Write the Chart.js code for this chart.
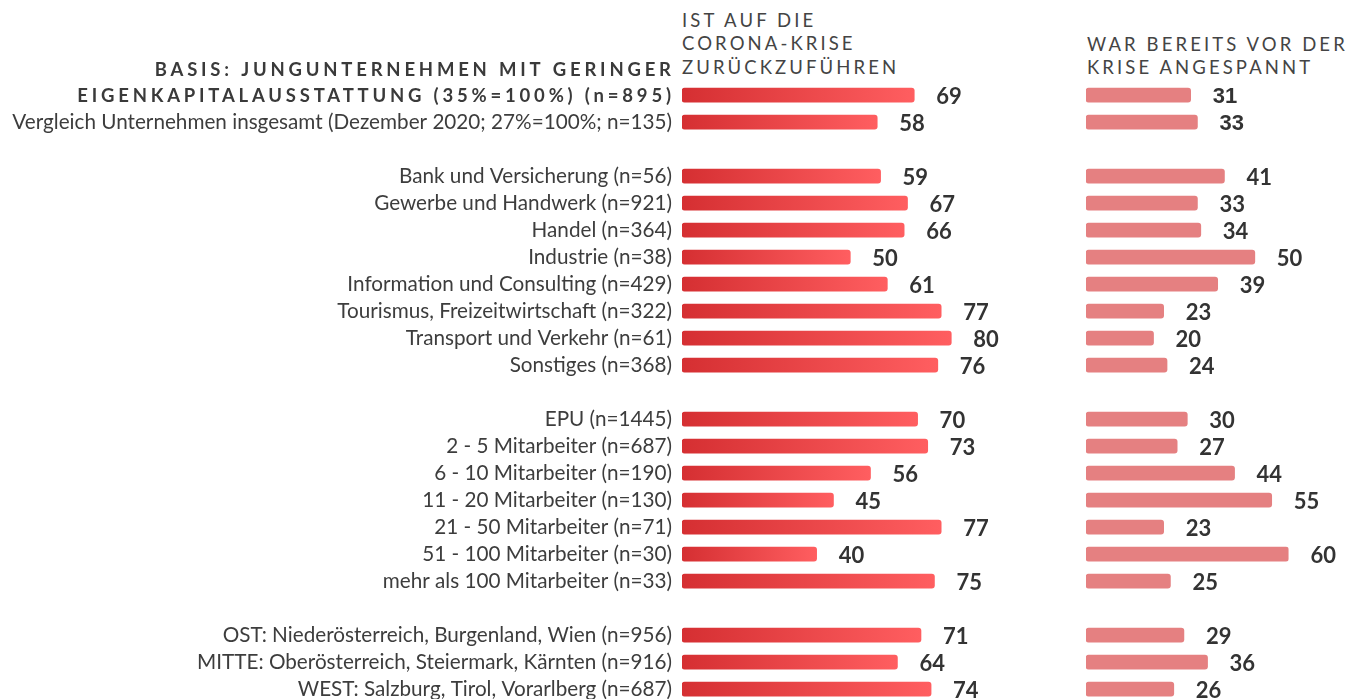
<!DOCTYPE html>
<html>
<head>
<meta charset="utf-8">
<script src="https://cdn.jsdelivr.net/npm/chart.js@4"></script>
<style>
  html, body { margin: 0; padding: 0; background: #fff; overflow: hidden; width: 1348px; height: 699px; }
  .box { position: absolute; top: 0; height: 731px; }
  .hdr { position: absolute; font-family: Lato, sans-serif; font-size: 18.5px; line-height: 23.3px;
         letter-spacing: 3.1px; color: #444; white-space: nowrap; }
</style>
</head>
<body>
<div class="hdr" id="h1" style="left:682px; top:9px;"></div>
<div class="hdr" id="h2" style="left:1087px; top:32.5px;"></div>
<div class="box" style="left:0; width:1030px;"><canvas id="c1"></canvas></div>
<div class="box" style="left:1040px; width:308px;"><canvas id="c2"></canvas></div>
<script>
// ---- data ----
const headerLeft = ['IST AUF DIE', 'CORONA-KRISE', 'ZURÜCKZUFÜHREN'];
const headerRight = ['WAR BEREITS VOR DER', 'KRISE ANGESPANNT'];
const categories = [
  ['BASIS: JUNGUNTERNEHMEN MIT GERINGER', 'EIGENKAPITALAUSSTATTUNG (35%=100%) (n=895)'],
  'Vergleich Unternehmen insgesamt (Dezember 2020; 27%=100%; n=135)',
  '',
  'Bank und Versicherung (n=56)',
  'Gewerbe und Handwerk (n=921)',
  'Handel (n=364)',
  'Industrie (n=38)',
  'Information und Consulting (n=429)',
  'Tourismus, Freizeitwirtschaft (n=322)',
  'Transport und Verkehr (n=61)',
  'Sonstiges (n=368)',
  '',
  'EPU (n=1445)',
  '2 - 5 Mitarbeiter (n=687)',
  '6 - 10 Mitarbeiter (n=190)',
  '11 - 20 Mitarbeiter (n=130)',
  '21 - 50 Mitarbeiter (n=71)',
  '51 - 100 Mitarbeiter (n=30)',
  'mehr als 100 Mitarbeiter (n=33)',
  '',
  'OST: Niederösterreich, Burgenland, Wien (n=956)',
  'MITTE: Oberösterreich, Steiermark, Kärnten (n=916)',
  'WEST: Salzburg, Tirol, Vorarlberg (n=687)'
];
const coronaValues = [69, 58, null, 59, 67, 66, 50, 61, 77, 80, 76, null, 70, 73, 56, 45, 77, 40, 75, null, 71, 64, 74];
const beforeValues = [31, 33, null, 41, 33, 34, 50, 39, 23, 20, 24, null, 30, 27, 44, 55, 23, 60, 25, null, 29, 36, 26];

// ---- headers ----
document.getElementById('h1').innerHTML = headerLeft.join('<br>');
document.getElementById('h2').innerHTML = headerRight.join('<br>');

const PAD_TOP = 81.7, PAD_BOTTOM = 28.3;

function valuePlugin(fontFn) {
  return {
    id: 'vals',
    afterDatasetsDraw(chart) {
      const ctx = chart.ctx;
      const meta = chart.getDatasetMeta(0);
      const data = chart.data.datasets[0].data;
      ctx.save();
      ctx.fillStyle = '#333';
      ctx.textAlign = 'left';
      ctx.textBaseline = 'middle';
      meta.data.forEach((el, i) => {
        if (data[i] == null) return;
        ctx.font = fontFn(i);
        ctx.fillText(String(data[i]), el.x + 22, el.y + 1.5);
      });
      ctx.restore();
    }
  };
}

const titlePlugin = {
  id: 'title2',
  afterDraw(chart) {
    const ctx = chart.ctx;
    const y = chart.scales.y.getPixelForTick(0);
    const lines = categories[0];
    const sp = 3.8;
    ctx.save();
    ctx.font = 'bold 18.5px Lato';
    ctx.letterSpacing = sp + 'px';
    ctx.fillStyle = '#3a3a3a';
    ctx.textAlign = 'right';
    ctx.textBaseline = 'middle';
    ctx.fillText(lines[1], 671 + sp, y + 0.5);
    ctx.fillText(lines[0], 671 + sp, y - 25.5 + 0.5);
    ctx.restore();
  }
};

function gradientFill(c) {
  const chart = c.chart;
  const area = chart.chartArea;
  if (!area || c.raw == null) return '#d93235';
  const x1 = chart.scales.x.getPixelForValue(c.raw);
  const g = chart.ctx.createLinearGradient(area.left, 0, x1, 0);
  g.addColorStop(0, '#d52f32');
  g.addColorStop(1, '#ff5e60');
  return g;
}

new Chart(document.getElementById('c1'), {
  type: 'bar',
  data: {
    labels: categories,
    datasets: [{
      data: coronaValues,
      backgroundColor: gradientFill,
      borderRadius: 3,
      borderSkipped: false,
      barThickness: 14
    }]
  },
  options: {
    indexAxis: 'y',
    responsive: true,
    maintainAspectRatio: false,
    animation: false,
    layout: { padding: { top: PAD_TOP, bottom: PAD_BOTTOM, right: 11.4, left: 0 } },
    plugins: { legend: { display: false }, tooltip: { enabled: false } },
    scales: {
      x: { min: 0, max: 100, display: false },
      y: {
        grid: { display: false, drawTicks: false },
        border: { display: false },
        afterFit(scale) { scale.width = 682; },
        ticks: {
          autoSkip: false,
          padding: 10,
          color: '#3d3d3d',
          font: { family: 'Lato', size: 20.7 },
          callback(value, index) {
            const l = categories[index];
            return Array.isArray(l) ? '' : l;
          }
        }
      }
    }
  },
  plugins: [valuePlugin(() => 'bold 22px Lato'), titlePlugin]
});

new Chart(document.getElementById('c2'), {
  type: 'bar',
  data: {
    labels: categories,
    datasets: [{
      data: beforeValues,
      backgroundColor: '#e58081',
      borderRadius: 3,
      borderSkipped: false,
      barThickness: 14
    }]
  },
  options: {
    indexAxis: 'y',
    responsive: true,
    maintainAspectRatio: false,
    animation: false,
    layout: { padding: { top: PAD_TOP, bottom: PAD_BOTTOM, left: 46, right: 59.4 } },
    plugins: { legend: { display: false }, tooltip: { enabled: false } },
    scales: {
      x: { min: 0, max: 60, display: false },
      y: { display: false }
    }
  },
  plugins: [valuePlugin(i => i < 2 ? 'bold 22px Arial, "Liberation Sans", sans-serif' : 'bold 22px Lato')]
});
</script>
</body>
</html>
